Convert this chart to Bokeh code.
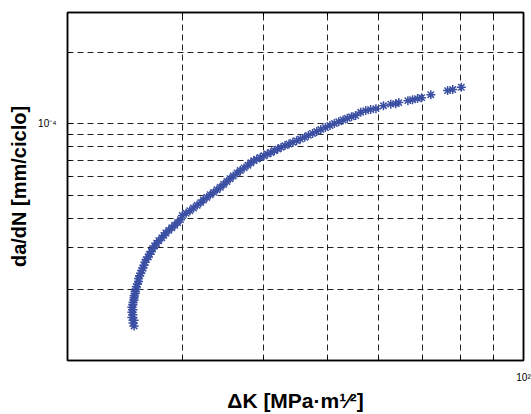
from bokeh.plotting import figure
from bokeh.models import FixedTicker, LogAxis, ColumnDataSource
from bokeh.embed import file_html
from bokeh.resources import INLINE

# ---- data ----
delta_k = [
    25.3, 25.2, 25.3, 25.1, 25.2, 25.1, 25.2, 25.1, 25.2, 25.2, 25.3, 25.3, 25.3, 25.4, 25.4, 25.5,
    25.5, 25.6, 25.7, 25.7, 25.8, 25.9, 26.0, 26.1, 26.2, 26.3, 26.4, 26.6, 26.7, 26.9, 27.0,
    27.2, 27.4, 27.6, 27.9, 28.1, 28.3, 28.6, 28.9, 29.2, 29.5, 29.8,
    30.0, 30.4, 30.8, 31.2, 31.6, 32.0, 32.3, 32.7, 33.1, 33.5, 33.9, 34.3, 34.7, 35.1, 35.5,
    35.9, 36.4, 36.8, 37.3, 37.8, 38.2, 38.6, 39.0, 39.5, 40.0, 40.5, 41.0, 41.5, 42.0, 42.5,
    43.1, 43.7, 44.3, 44.9, 45.5, 46.2, 46.8, 47.5, 48.2, 48.9, 49.7, 50.5, 51.3, 52.1, 52.9,
    53.7, 54.5, 55.3,
    56.3, 57.3, 58.3, 59.4, 61.0, 62.6, 63.7, 64.4, 66.5, 67.6, 68.8, 69.8, 72.1, 76.5, 77.9, 80.3,
]
dadn = [
    1.40e-5, 1.44e-5, 1.48e-5, 1.52e-5, 1.56e-5, 1.60e-5, 1.64e-5, 1.68e-5, 1.72e-5, 1.76e-5, 1.80e-5,
    1.84e-5, 1.88e-5, 1.92e-5, 1.96e-5, 2.00e-5,
    2.05e-5, 2.10e-5, 2.16e-5, 2.22e-5, 2.28e-5, 2.34e-5, 2.40e-5, 2.46e-5, 2.53e-5, 2.60e-5, 2.67e-5,
    2.74e-5, 2.81e-5, 2.89e-5, 2.97e-5,
    3.05e-5, 3.13e-5, 3.21e-5, 3.30e-5, 3.38e-5, 3.46e-5, 3.55e-5, 3.64e-5, 3.73e-5, 3.83e-5, 3.94e-5,
    4.10e-5, 4.19e-5, 4.30e-5, 4.41e-5, 4.53e-5, 4.65e-5, 4.77e-5, 4.89e-5, 5.02e-5, 5.14e-5, 5.27e-5,
    5.40e-5, 5.55e-5, 5.71e-5, 5.87e-5,
    6.03e-5, 6.20e-5, 6.36e-5, 6.52e-5, 6.69e-5, 6.85e-5, 7.00e-5, 7.10e-5, 7.22e-5, 7.34e-5, 7.46e-5,
    7.58e-5, 7.71e-5, 7.84e-5, 7.96e-5,
    8.10e-5, 8.23e-5, 8.36e-5, 8.50e-5, 8.64e-5, 8.78e-5, 8.95e-5, 9.12e-5, 9.30e-5, 9.48e-5, 9.66e-5,
    9.85e-5, 1.005e-4, 1.022e-4, 1.040e-4,
    1.057e-4, 1.072e-4, 1.085e-4,
    1.120e-4, 1.139e-4, 1.150e-4, 1.161e-4, 1.195e-4, 1.213e-4, 1.219e-4, 1.231e-4, 1.255e-4, 1.267e-4,
    1.280e-4, 1.292e-4, 1.330e-4, 1.384e-4, 1.398e-4, 1.430e-4,
]
x_range = (20, 100)
y_range = (1e-5, 2.96e-4)
x_major = [100]
x_major_labels = ["10\u00b2"]
x_minor = [30, 40, 50, 60, 70, 80, 90]
y_major = [1e-4]
y_major_labels = ["10\u207b\u2074"]
y_minor = [2e-5, 3e-5, 4e-5, 5e-5, 6e-5, 7e-5, 8e-5, 9e-5, 2e-4]
x_title = "\u0394K [MPa\u00b7m\u00b9\u2044\u00b2]"
y_title = "da/dN [mm/ciclo]"

FONT = "Liberation Sans"
MARK = "#3b4fa3"

p = figure(width=531, height=414, x_axis_type="log", y_axis_type="log",
           x_range=x_range, y_range=y_range, output_backend="svg",
           toolbar_location=None, min_border_left=67, min_border_right=8,
           min_border_top=12, min_border_bottom=54)
p.background_fill_color = "white"
p.border_fill_color = "white"
p.outline_line_color = "black"
p.outline_line_width = 1.5

bottom = p.below[0]
left = p.left[0]
bottom.ticker = FixedTicker(ticks=x_major, minor_ticks=x_minor)
left.ticker = FixedTicker(ticks=y_major, minor_ticks=y_minor)
bottom.major_label_overrides = dict(zip(x_major, x_major_labels))
left.major_label_overrides = dict(zip(y_major, y_major_labels))

top = LogAxis(ticker=FixedTicker(ticks=x_major, minor_ticks=x_minor))
right = LogAxis(ticker=FixedTicker(ticks=y_major, minor_ticks=y_minor))
p.add_layout(top, "above")
p.add_layout(right, "right")

for ax in [bottom, left, top, right]:
    ax.axis_line_color = "black"
    ax.axis_line_width = 1.5
    ax.major_tick_in = 6
    ax.major_tick_out = 0
    ax.minor_tick_in = 4
    ax.minor_tick_out = 0
    ax.major_tick_line_color = "black"
    ax.minor_tick_line_color = "black"
    ax.major_label_text_font = FONT
    ax.major_label_text_font_size = "10px"
    ax.major_label_text_color = "black"
    ax.axis_label_text_font = FONT
    ax.axis_label_text_font_style = "bold"
    ax.axis_label_text_color = "black"

for ax in [top, right]:
    ax.major_label_text_font_size = "1px"
    ax.major_label_text_color = None
    ax.major_label_standoff = 0

left.major_label_standoff = 11
left.major_label_orientation = "horizontal"
left.axis_label = y_title
left.axis_label_text_font_size = "20px"
left.axis_label_standoff = 5

bottom.major_label_standoff = 11
bottom.axis_label = x_title
bottom.axis_label_text_font_size = "21px"
bottom.axis_label_standoff = 3

for g in [p.xgrid[0], p.ygrid[0]]:
    g.grid_line_color = "#222222"
    g.grid_line_dash = "6 4"
    g.grid_line_width = 1
    g.minor_grid_line_color = "#222222"
    g.minor_grid_line_dash = "6 4"
    g.minor_grid_line_width = 1

src = ColumnDataSource(data=dict(x=delta_k, y=dadn))
p.scatter("x", "y", source=src, marker="asterisk", size=9, line_color=MARK,
          line_width=1.5)

open("out.html", "w").write(file_html(p, INLINE))
